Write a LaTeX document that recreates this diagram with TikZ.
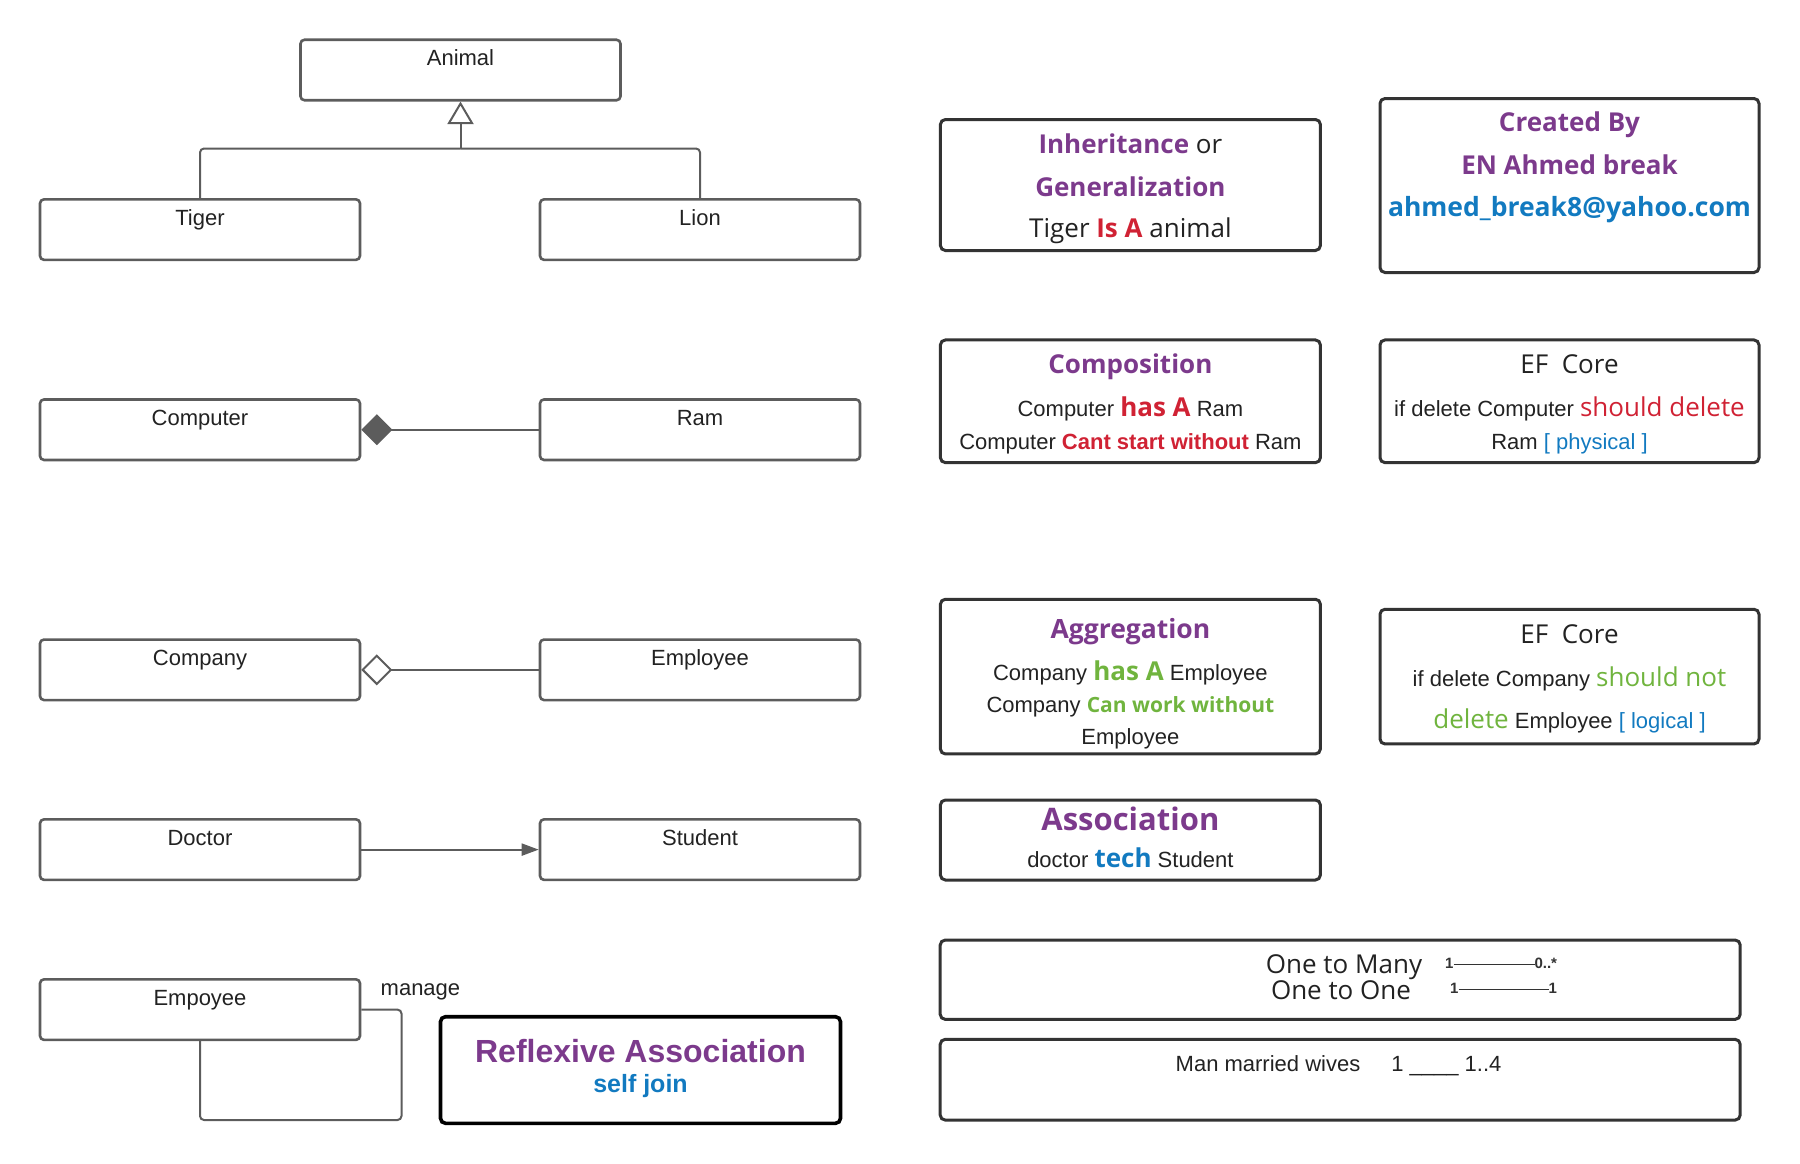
\documentclass[tikz,border=0pt]{standalone}
\usepackage{fontspec}
\setmainfont{Liberation Sans}
\newfontfamily\osans{Open Sans}
\usetikzlibrary{arrows.meta}
\definecolor{cpurple}{RGB}{124,58,140}
\definecolor{cred}{RGB}{208,34,52}
\definecolor{cgreen}{RGB}{112,180,62}
\definecolor{cblue}{RGB}{18,122,192}
\definecolor{cgrey}{RGB}{92,92,92}
\definecolor{cdark}{RGB}{51,51,51}
\definecolor{ctext}{RGB}{34,34,34}
\newcommand\arl{\fontsize{22}{26}\selectfont}
\newcommand\osl{\osans\fontsize{26}{30}\selectfont}
\tikzset{
  umlbox/.style={draw=cgrey, line width=2.6pt, rounded corners=4pt, minimum width=320pt, minimum height=60.5pt, inner sep=0pt, fill=white},
  umllabel/.style={font=\arl, text=ctext, anchor=base, inner sep=0pt},
  infobox/.style={draw=cdark, line width=3pt, rounded corners=5pt, inner sep=0pt, minimum width=380pt},
  txt/.style={anchor=base, inner sep=0pt, text=ctext},
  conn/.style={draw=cgrey, line width=2pt},
}
\begin{document}
\begin{tikzpicture}[x=1pt,y=-1pt]
\useasboundingbox (0,0) rectangle (1800,1163);
% ---------- UML boxes ----------
\node[umlbox] (animal) at (460.5,70) {};
\node[umlbox] (tiger) at (200,229.6) {};
\node[umlbox] (lion) at (700,229.6) {};
\node[umlbox] (computer) at (200,429.7) {};
\node[umlbox] (ram) at (700,429.7) {};
\node[umlbox] (company) at (200,669.8) {};
\node[umlbox] (employee) at (700,669.8) {};
\node[umlbox] (doctor) at (200,849.6) {};
\node[umlbox] (student) at (700,849.6) {};
\node[umlbox] (emp) at (200,1009.6) {};
\node[umllabel] (animalL) at ([yshift=-27.5pt]animal.north) {Animal};
\node[umllabel] (tigerL) at ([yshift=-27.5pt]tiger.north) {Tiger};
\node[umllabel] (lionL) at ([yshift=-27.5pt]lion.north) {Lion};
\node[umllabel] (computerL) at ([yshift=-27.5pt]computer.north) {Computer};
\node[umllabel] (ramL) at ([yshift=-27.5pt]ram.north) {Ram};
\node[umllabel] (companyL) at ([yshift=-27.5pt]company.north) {Company};
\node[umllabel] (employeeL) at ([yshift=-27.5pt]employee.north) {Employee};
\node[umllabel] (doctorL) at ([yshift=-27.5pt]doctor.north) {Doctor};
\node[umllabel] (studentL) at ([yshift=-27.5pt]student.north) {Student};
\node[umllabel] (empL) at ([yshift=-27.5pt]emp.north) {Empoyee};
% ---------- connectors ----------
\coordinate (junc) at (460.5,148.5);
\draw[conn, rounded corners=4pt] (tiger.north) |- (junc);
\draw[conn, rounded corners=4pt] (lion.north) |- (junc);
\draw[conn, -{Triangle[open, length=22.5pt, width=26pt, line width=2pt]}] (junc) -- (animal.south);
\draw[conn, {Diamond[length=31pt, width=31pt]}-] (computer.east) -- (ram.west);
\draw[conn, {Diamond[open, fill=white, length=31pt, width=31pt, line width=2pt]}-] (company.east) -- (employee.west);
\draw[conn, -{Triangle[length=17pt, width=12pt]}] (doctor.east) -- (student.west);
\coordinate (loopc) at (401.5,1120);
\draw[conn, rounded corners=4pt] (emp.east) -| (loopc) -| (emp.south);
\node[umllabel, anchor=base west] (manage) at (380.5,995) {manage};
% ---------- reflexive ----------
\node[draw=black, line width=3.6pt, rounded corners=5pt, minimum width=400pt, minimum height=106.6pt, inner sep=0pt] (refl) at (640.5,1070) {};
\node[txt, font=\fontsize{32}{36}\selectfont\bfseries, text=cpurple] (reflT) at (640.5,1062.5) {Reflexive Association};
\node[txt, font=\fontsize{25}{29}\selectfont\bfseries, text=cblue] (reflS) at (640.5,1092) {self join};
% ---------- info boxes ----------
\node[infobox, minimum height=131pt] (inh) at (1130.4,185) {};
\node[infobox, minimum width=379pt, minimum height=174pt] (created) at (1569.5,185.5) {};
\node[infobox, minimum height=122.7pt] (comp) at (1130.4,401.3) {};
\node[infobox, minimum width=379pt, minimum height=122.7pt] (ef1) at (1569.5,401.3) {};
\node[infobox, minimum height=154.7pt] (aggr) at (1130.4,676.6) {};
\node[infobox, minimum width=379pt, minimum height=134.7pt] (ef2) at (1569.5,676.6) {};
\node[infobox, minimum height=80pt] (assoc) at (1130.4,840) {};
\node[infobox, minimum width=800pt, minimum height=79.3pt] (onemany) at (1340.2,979.7) {};
\node[infobox, minimum width=800pt, minimum height=80.7pt] (man) at (1340.2,1079.7) {};
% inheritance text
\node[txt, font=\osl] (inh1) at (1130.4,153.3) {\textcolor{cpurple}{\bfseries Inheritance} or};
\node[txt, font=\osl\bfseries, text=cpurple] (inh2) at (1130.4,196) {Generalization};
\node[txt, font=\osl] (inh3) at (1130.4,237.7) {Tiger \textcolor{cred}{\bfseries Is A} animal};
% created by
\node[txt, font=\osl\bfseries, text=cpurple] (cr1) at (1569.5,131.7) {Created By};
\node[txt, font=\osl\bfseries, text=cpurple] (cr2) at (1569.5,174) {EN Ahmed break};
\node[txt, font=\osans\fontsize{26.5}{30}\selectfont\bfseries, text=cblue] (cr3) at (1569.5,216.7) {ahmed\_break8@yahoo.com};
% composition
\node[txt, font=\osans\fontsize{26}{30}\selectfont\bfseries, text=cpurple] (co1) at (1130.4,373.3) {Composition};
\node[txt, font=\arl] (co2) at (1130.4,416) {Computer {\osl\bfseries\textcolor{cred}{has A}} Ram};
\node[txt, font=\arl] (co3) at (1130.4,449.3) {Computer \textbf{\textcolor{cred}{Cant start without}} Ram};
% ef core 1
\node[txt, font=\osl] (ea1) at (1569.5,373.3) {EF\ \ Core};
\node[txt, font=\arl] (ea2) at (1569.5,416) {if delete Computer {\osl\textcolor{cred}{should delete}}};
\node[txt, font=\arl] (ea3) at (1569.5,449.3) {Ram \textcolor{cblue}{[ physical ]}};
% aggregation
\node[txt, font=\osans\fontsize{26.5}{30}\selectfont\bfseries, text=cpurple] (ag1) at (1130.4,638.3) {Aggregation};
\node[txt, font=\arl] (ag2) at (1130.4,680) {Company {\osl\bfseries\textcolor{cgreen}{has A}} Employee};
\node[txt, font=\arl] (ag3) at (1130.4,712.7) {Company {\osans\fontsize{21}{25}\selectfont\bfseries\textcolor{cgreen}{Can work without}}};
\node[txt, font=\arl] (ag4) at (1130.4,744) {Employee};
% ef core 2
\node[txt, font=\osl] (eb1) at (1569.5,643.3) {EF\ \ Core};
\node[txt, font=\arl] (eb2) at (1569.5,686) {if delete Company {\osl\textcolor{cgreen}{should not}}};
\node[txt, font=\arl] (eb3) at (1569.5,728.3) {{\osl\textcolor{cgreen}{delete}} Employee \textcolor{cblue}{[ logical ]}};
% association
\node[txt, font=\osans\fontsize{31}{35}\selectfont\bfseries, text=cpurple] (as1) at (1130.4,830) {Association};
\node[txt, font=\arl] (as2) at (1130.4,867.3) {doctor {\osl\bfseries\textcolor{cblue}{tech}} Student};
% one to many
\node[txt, font=\osl] (om1) at (1344,973.3) {One to Many};
\node[txt, font=\osl] (om2) at (1341,999.3) {One to One};
\node[txt, anchor=base west, font=\fontsize{15}{17}\selectfont\bfseries, text=cdark] (om3) at (1445,968.3) {1\rule[3pt]{81pt}{1.8pt}0..*};
\node[txt, anchor=base west, font=\fontsize{15}{17}\selectfont\bfseries, text=cdark] (om4) at (1450,993.3) {1\rule[3pt]{90pt}{1.8pt}1};
% man married
\node[txt, anchor=base west, font=\arl] (mm) at (1175.5,1071.7) {Man married wives\hspace{31pt}1 \_\_\_\_ 1..4};
\end{tikzpicture}
\end{document}
